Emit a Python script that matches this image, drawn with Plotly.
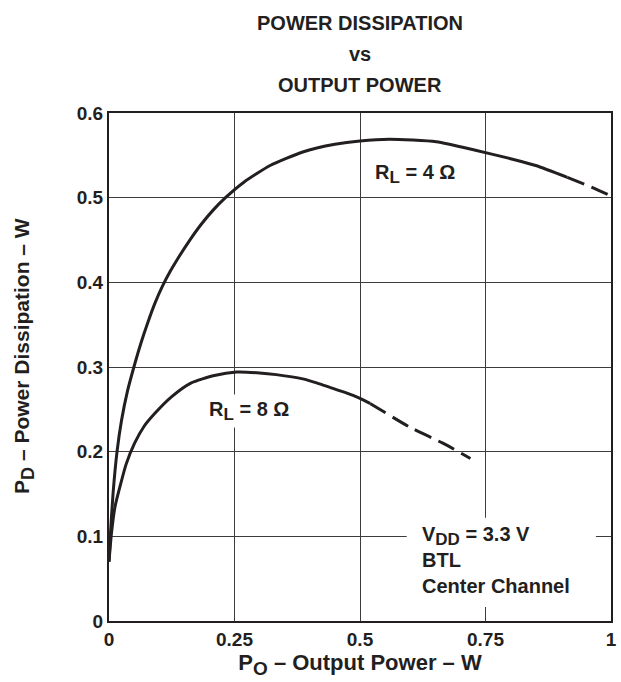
import plotly.graph_objects as go

# Output power (W) vs power dissipation (W), BTL center channel, VDD = 3.3 V
po_4ohm = [0, 0.003, 0.008, 0.016, 0.025, 0.037, 0.052, 0.064, 0.077, 0.092, 0.107,
           0.122, 0.136, 0.16, 0.183, 0.207, 0.232, 0.268, 0.321, 0.386, 0.45, 0.5,
           0.559, 0.652, 0.730, 0.80, 0.85, 0.913]
pd_4ohm = [0.07, 0.104, 0.15, 0.2, 0.237, 0.272, 0.305, 0.329, 0.352, 0.376, 0.396,
           0.413, 0.427, 0.449, 0.468, 0.485, 0.5, 0.518, 0.538, 0.554, 0.563, 0.567,
           0.569, 0.566, 0.556, 0.546, 0.538, 0.524]
po_4ohm_ext = [0.913, 0.955, 1.0]
pd_4ohm_ext = [0.524, 0.514, 0.502]

po_8ohm = [0, 0.005, 0.012, 0.022, 0.034, 0.051, 0.07, 0.091, 0.125, 0.163, 0.21,
           0.254, 0.3, 0.333, 0.386, 0.415, 0.44, 0.47, 0.5, 0.52]
pd_8ohm = [0.07, 0.104, 0.135, 0.159, 0.185, 0.210, 0.23, 0.245, 0.265, 0.281, 0.29,
           0.294, 0.293, 0.291, 0.286, 0.281, 0.276, 0.270, 0.263, 0.257]
po_8ohm_ext = [0.52, 0.599, 0.665, 0.72]
pd_8ohm_ext = [0.257, 0.229, 0.210, 0.192]

x_ticks = [0, 0.25, 0.5, 0.75, 1]
x_tick_text = ["0", "0.25", "0.5", "0.75", "1"]
y_ticks = [0, 0.1, 0.2, 0.3, 0.4, 0.5, 0.6]
y_tick_text = ["0", "0.1", "0.2", "0.3", "0.4", "0.5", "0.6"]

INK = "#231f20"
FONT = "Liberation Sans, Arial, sans-serif"

fig = go.Figure()

def curve(x, y, dash):
    fig.add_trace(go.Scatter(
        x=x, y=y, mode="lines",
        line=dict(color=INK, width=3, dash=dash, shape="spline", smoothing=0.6),
        hoverinfo="skip", showlegend=False,
    ))

curve(po_4ohm, pd_4ohm, "solid")
curve(po_4ohm_ext, pd_4ohm_ext, "18px,8px")
curve(po_8ohm, pd_8ohm, "solid")
curve(po_8ohm_ext, pd_8ohm_ext, "18px,8px")

# white panel behind the operating-condition note (hides gridlines only)
fig.add_shape(type="rect", xref="x", yref="y", x0=0.593, x1=0.970, y0=0.0165, y1=0.122,
              fillcolor="white", line_width=0, layer="between")


def sub(s, size):
    return f'<sub><span style="font-size:{size}px">{s}</span></sub>'


label_font = dict(family=FONT, size=20, color=INK, weight="bold")

fig.add_annotation(x=0.609, y=0.528, xref="x", yref="y", showarrow=False,
                   text="R" + sub("L", 17) + " = 4 Ω", font=label_font)
fig.add_annotation(x=0.278, y=0.248, xref="x", yref="y", showarrow=False,
                   text="R" + sub("L", 17) + " = 8 Ω", font=label_font,
                   bgcolor="white", borderpad=3)
fig.add_annotation(x=0.620, y=0.072, xref="x", yref="y", showarrow=False,
                   xanchor="left", align="left",
                   text="V" + sub("DD", 17) + " = 3.3 V<br>BTL<br>Center Channel",
                   font=label_font)

title_font = dict(family=FONT, size=20, color=INK, weight="bold")
for txt, yp in [("POWER DISSIPATION", 1.203), ("vs", 1.142), ("OUTPUT POWER", 1.081)]:
    fig.add_annotation(x=0.5, y=yp, xref="paper", yref="paper", showarrow=False,
                       text=txt, font=title_font)

fig.add_annotation(x=-0.2, y=0.522, xref="paper", yref="paper", showarrow=False,
                   textangle=-90, text="P" + sub("D", 18) + " – Power Dissipation – W",
                   font=dict(family=FONT, size=21, color=INK, weight="bold"))

axis_common = dict(
    showgrid=True, gridcolor="#3c3c3c", gridwidth=1,
    showline=True, linecolor=INK, linewidth=2, mirror=True,
    zeroline=False, ticks="",
    tickfont=dict(family=FONT, size=19, color=INK, weight="bold"),
)

fig.update_xaxes(range=[0, 1], tickvals=x_ticks, ticktext=x_tick_text,
                 title=dict(text="P" + sub("O", 19) + " – Output Power – W",
                            font=dict(family=FONT, size=22, color=INK, weight="bold"),
                            standoff=6),
                 **axis_common)
fig.update_yaxes(range=[0, 0.6], tickvals=y_ticks, ticktext=y_tick_text,
                 **axis_common)

fig.update_layout(
    width=621, height=682,
    margin=dict(l=109, r=4, t=113, b=61),
    plot_bgcolor="white", paper_bgcolor="white",
)

fig.write_html("out.html")
